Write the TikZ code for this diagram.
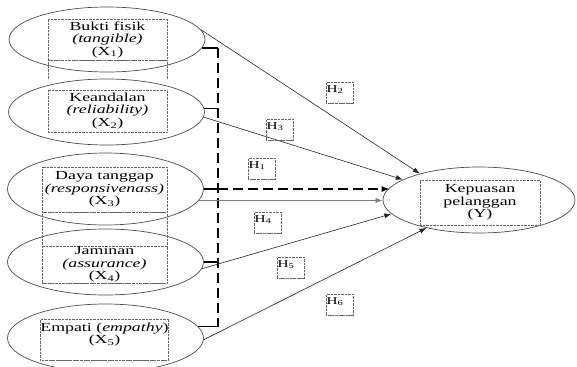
\documentclass[tikz,border=0pt]{standalone}
\usepackage{fontspec}
\setmainfont[FakeStretch=1.45]{Liberation Serif}
\usetikzlibrary{shapes.geometric,arrows.meta}

\begin{document}
\begin{tikzpicture}[x=1pt,y=-1pt,
  font=\fontsize{12.3}{12.5}\selectfont,
  oval/.style={draw=black!70, ellipse, line width=0.7pt, minimum width=196pt, inner sep=0pt},
  txtbox/.style={draw=black!60, densely dotted, align=center, minimum width=119pt, inner sep=0pt},
  hbox/.style={draw=black!60, densely dotted, anchor=north west, text width=26pt, text height=8pt, text depth=9pt,
    inner xsep=0.5pt, inner ysep=2pt, font=\fontsize{10.5}{12}\selectfont},
  base/.style={black!60, densely dotted, line width=1.2pt},
  link/.style={black!85, line width=0.6pt, -{Latex[length=7pt,width=5pt]}},
  tick/.style={line width=1.5pt},
  bardash/.style={line width=2.2pt, dash pattern=on 10pt off 5pt}]
  \useasboundingbox (0,0) rectangle (577,366);
  %% Independent variables
  \node[oval, minimum height=65pt] (x1) at (107,39.5) {};
  \node[oval, minimum height=66pt] (x2) at (106.5,112) {};
  \node[oval, minimum height=72pt] (x3) at (105.5,189) {};
  \node[oval, minimum height=66pt] (x4) at (105.5,262) {};
  \node[oval, minimum height=68pt] (x5) at (105.5,338) {};
  \node[txtbox, minimum height=41pt] (t1) at (107.5,39.5) {Bukti fisik\\\textit{(tangible)}\\(X\textsubscript{1})};
  \node[txtbox, minimum height=42pt] (t2) at (107.5,111) {Keandalan\\\textit{(reliability)}\\(X\textsubscript{2})};
  \node[txtbox, minimum height=45pt, minimum width=125pt] (t3) at (104.5,189.5) {Daya tanggap\\\textit{(responsivenass)}\\(X\textsubscript{3})};
  \node[txtbox, minimum height=37pt, minimum width=125pt] (t4) at (104.5,264.5) {Jaminan\\\textit{(assurance)}\\(X\textsubscript{4})};
  \node[txtbox, minimum height=41pt, minimum width=125pt] (t5) at (104.5,339.5) {Empati (\textit{empathy})\\(X\textsubscript{5})\\\mbox{}};
  \draw[black!60, densely dotted] (t1.south west) -- ++(0,19) (t1.south east) -- ++(0,19);
  \draw[black!60, densely dotted] (t3.south west) -- ++(0,36) (t3.south east) -- ++(0,36);
  %% Dependent variable
  \node[oval, minimum width=192pt, minimum height=66pt] (y) at (479,200) {};
  \node[txtbox, minimum width=120pt, minimum height=45pt] (ty) at (480,202.5) {Kepuasan\\pelanggan\\(Y)};
  %% Bracket joining X1..X5 (simultaneous effect)
  \coordinate (bar) at (218,0);
  \foreach \e/\a in {x1/-5, x2/2, x3/0, x4/0, x5/7}
    \draw[tick] (\e.\a) -- (\e.\a -| bar);
  \draw[bardash] (x1.-5 -| bar) -- (x5.7 -| bar);
  \draw[bardash, -{Latex[length=8pt,width=6pt]}] (x3.0 -| bar) -- (x3.0 -| y.172.5);
  %% Partial effects
  \draw[link] (x1.6) -- (y.156);
  \draw[link] (x2.-3) -- (y.165);
  \draw[link, black!50] (x3.-7) -- (x3.-7 -| y.west);
  \draw[link] (x4.-4) -- (y.-171);
  \draw[link] (x5.-1) -- (y.208);
  %% Hypotheses
  \node[hbox] (h1) at (248,158) {H\textsubscript{1}};
  \node[hbox] (h2) at (326,82) {H\textsubscript{2}};
  \node[hbox] (h3) at (266,119) {H\textsubscript{3}};
  \node[hbox] (h4) at (254,212) {H\textsubscript{4}};
  \node[hbox] (h5) at (277,257) {H\textsubscript{5}};
  \node[hbox] (h6) at (326,294) {H\textsubscript{6}};
  %% heavier box bottoms
  \foreach \b in {t1,t3,t4,t5,h1,h2,h3,h4,h5,h6}
    \draw[base] (\b.south west) -- (\b.south east);
\end{tikzpicture}
\end{document}
